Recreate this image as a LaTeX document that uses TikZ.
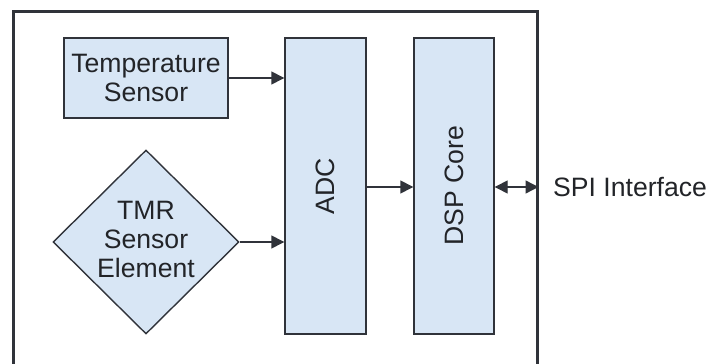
\documentclass[tikz,border=0pt]{standalone}
\usepackage{fontspec}
\setmainfont{Liberation Sans}
\usetikzlibrary{arrows.meta,shapes.geometric}
\definecolor{boxfill}{HTML}{D8E6F5}
\definecolor{linec}{HTML}{30333A}
\definecolor{txtc}{HTML}{222428}
\begin{document}
\begin{tikzpicture}[x=1pt,y=1pt,
  blk/.style={draw=linec,line width=1.4pt,fill=boxfill,inner sep=0pt,text=txtc,
    font=\fontsize{26.6}{29}\selectfont,align=center},
  lbl/.style={text=txtc,font=\fontsize{26.6}{29}\selectfont,inner sep=0pt},
  conn/.style={draw=linec,line width=1.4pt,-{Triangle[length=13pt,width=13pt]}},
  biconn/.style={draw=linec,line width=1.4pt,{Triangle[length=13pt,width=13pt]}-{Triangle[length=13pt,width=13pt]}}]
\useasboundingbox (0,0) rectangle (710,364);
\clip (0,0) rectangle (710,364);
\node[draw=linec,line width=3pt,minimum width=524pt,minimum height=380pt,inner sep=0pt,anchor=north west] (chip) at (11.5,353.5) {};
\node[blk,minimum width=164pt,minimum height=80pt] (temp) at (146,286) {Temperature\\Sensor};
\node[blk,diamond,minimum width=186pt,minimum height=184pt] (tmr) at (146,122) {};
\node[lbl,align=center] (tmrlbl) at (146,125) {TMR\\Sensor\\Element};
\node[blk,minimum width=81pt,minimum height=296pt] (adc) at (325.5,178) {};
\node[lbl,rotate=90] (adclbl) at (adc.center) {ADC};
\node[blk,minimum width=80pt,minimum height=296pt] (dsp) at (454,178) {};
\node[lbl,rotate=90] (dsplbl) at (dsp.center) {DSP Core};
\node[lbl,anchor=west] (spi) at (553,177) {SPI Interface};
\draw[conn] (temp.east) -- (temp.east -| adc.west);
\draw[conn] (tmr.east) -- (tmr.east -| adc.west);
\draw[conn] (adc.east |- 0,177) -- (dsp.west |- 0,177);
\draw[biconn] (dsp.east |- 0,177) -- (chip.east |- 0,177);
\end{tikzpicture}
\end{document}
